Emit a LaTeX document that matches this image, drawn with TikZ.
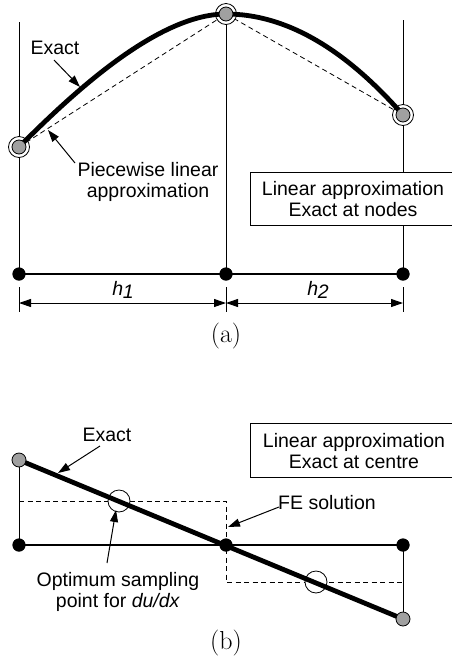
\documentclass[tikz,border=0pt]{standalone}
\usepackage{fontspec}
\setsansfont{Liberation Sans}
\usetikzlibrary{arrows.meta}
\definecolor{dotgray}{RGB}{160,160,160}
\tikzset{
  x=1pt, y=-1pt,
  lbl/.style={font=\sffamily\fontsize{19.5}{21}\selectfont, align=center, inner sep=0pt},
  captionst/.style={font=\fontsize{26}{28}\selectfont, inner sep=0pt},
  thinln/.style={line width=0.9pt},
  baseln/.style={line width=2.6pt},
  exactln/.style={line width=4.8pt},
  dashln/.style={line width=0.8pt, dash pattern=on 5pt off 3.5pt},
  ptr/.style={line width=1pt, -{Triangle[length=12pt,width=8pt]}},
  dimln/.style={line width=1pt, {Triangle[length=12pt,width=8pt]}-{Triangle[length=12pt,width=8pt]}},
  ring/.style={circle, draw, fill=white, line width=0.8pt, minimum size=21pt, inner sep=0pt},
  graydot/.style={circle, draw, fill=dotgray, line width=0.8pt, minimum size=14pt, inner sep=0pt},
  blackdot/.style={circle, fill=black, minimum size=13pt, inner sep=0pt},
  opencirc/.style={circle, draw, fill=white, line width=0.8pt, minimum size=22pt, inner sep=0pt},
  boxst/.style={draw, fill=white, line width=0.9pt, inner sep=0pt, anchor=north west},
}
\begin{document}
\begin{tikzpicture}
\useasboundingbox (0,0) rectangle (451,657);
\fill[white] (0,0) rectangle (451,657);
% ---------- (a) ----------
\coordinate (LA) at (19,147);
\coordinate (TA) at (226,14);
\coordinate (RA) at (403,115);
\coordinate (LT) at (19,22);
\coordinate (RT) at (403,20);
\node[blackdot] (N1) at (19,274) {};
\node[blackdot] (N2) at (226,274) {};
\node[blackdot] (N3) at (403,274) {};
% verticals
\draw[thinln] (LT) -- (N1.center);
\draw[thinln] (TA) -- (N2.center);
\draw[thinln] (RT) -- (N3.center);
% box a
\node[boxst, minimum width=215pt, minimum height=53pt] (boxa) at (250,172) {};
\node[lbl] (boxatext) at (353,199) {Linear approximation\\Exact at nodes};
% base line
\draw[baseln] (N1.center) -- (N3.center);
\node[blackdot] at (N1) {};
\node[blackdot] at (N2) {};
\node[blackdot] at (N3) {};
% dashed linear approximation
\draw[dashln] (LA) -- (TA) -- (RA);
% rings
\node[ring] (rL) at (LA) {};
\node[ring] (rT) at (TA) {};
\node[ring] (rR) at (RA) {};
% exact curve
\draw[exactln] (LA) .. controls (69,97) and (156,14) .. (TA)
                    .. controls (285,14) and (344,47.7) .. (RA);
\node[graydot] (gL) at (LA) {};
\node[graydot] (gT) at (TA) {};
\node[graydot] (gR) at (RA) {};
% labels a
\node[lbl] (exa) at (55,48) {Exact};
\coordinate (exaS) at (54,60);
\coordinate (exaT) at (80,87);
\draw[ptr] (exaS) -- (exaT);
\node[lbl] (pwl) at (148,182) {Piecewise linear\\approximation};
\coordinate (pwlS) at (75,163);
\coordinate (pwlT) at (48,130);
\draw[ptr] (pwlS) -- (pwlT);
% dimensions
\coordinate (e1t) at (19,287); \coordinate (e1b) at (19,312);
\coordinate (e2t) at (226,287); \coordinate (e2b) at (226,312);
\coordinate (e3t) at (403,287); \coordinate (e3b) at (403,312);
\draw[thinln] (e1t) -- (e1b);
\draw[thinln] (e2t) -- (e2b);
\draw[thinln] (e3t) -- (e3b);
\coordinate (d1) at (19,303); \coordinate (d2) at (226,303); \coordinate (d3) at (403,303);
\draw[dimln] (d1) -- (d2);
\draw[dimln] (d2) -- (d3);
\node[lbl] (h1) at (123,290) {\itshape h\kern-0.5pt\raisebox{-2.5pt}{1}};
\node[lbl] (h2) at (318,290) {\itshape h\kern-0.5pt\raisebox{-2.5pt}{2}};
\node[captionst] (capa) at (226,336) {(a)};
% ---------- (b) ----------
\coordinate (GL) at (19,460);
\coordinate (GR) at (403,619);
\node[blackdot] (B1) at (19,545) {};
\node[blackdot] (B2) at (226,545) {};
\node[blackdot] (B3) at (403,545) {};
\draw[thinln] (GL) -- (B1.center);
\draw[thinln] (B3.center) -- (GR);
\coordinate (q1) at (19,501);
\coordinate (q2) at (226,501);
\coordinate (q3) at (226,582);
\coordinate (q4) at (403,582);
\draw[dashln] (q1) -- (q2) -- (q3) -- (q4);
\draw[baseln] (B1.center) -- (B3.center);
\node[opencirc] (o1) at (119,501) {};
\node[opencirc] (o2) at (316,582) {};
\node[blackdot] at (B1) {};
\node[blackdot] at (B3) {};
\draw[exactln] (GL) -- (GR);
\node[blackdot] at (B2) {};
\node[graydot] (gbL) at (GL) {};
\node[graydot] (gbR) at (GR) {};
% box b
\node[boxst, minimum width=215pt, minimum height=54pt] (boxb) at (250,423) {};
\node[lbl] (boxbtext) at (354,451) {Linear approximation\\Exact at centre};
% labels b
\node[lbl] (exb) at (107,435) {Exact};
\coordinate (exbS) at (100,446);
\coordinate (exbT) at (58,473);
\draw[ptr] (exbS) -- (exbT);
\node[lbl] (fe) at (327,503) {FE solution};
\coordinate (feS) at (279,507);
\coordinate (feT) at (228,527);
\draw[ptr] (feS) -- (feT);
\node[lbl] (opt) at (118,592) {Optimum sampling\\point for \textit{du/dx}};
\coordinate (optS) at (107,563);
\coordinate (optT) at (116,510);
\draw[ptr] (optS) -- (optT);
\node[captionst] (capb) at (226,643) {(b)};
\end{tikzpicture}
\end{document}
